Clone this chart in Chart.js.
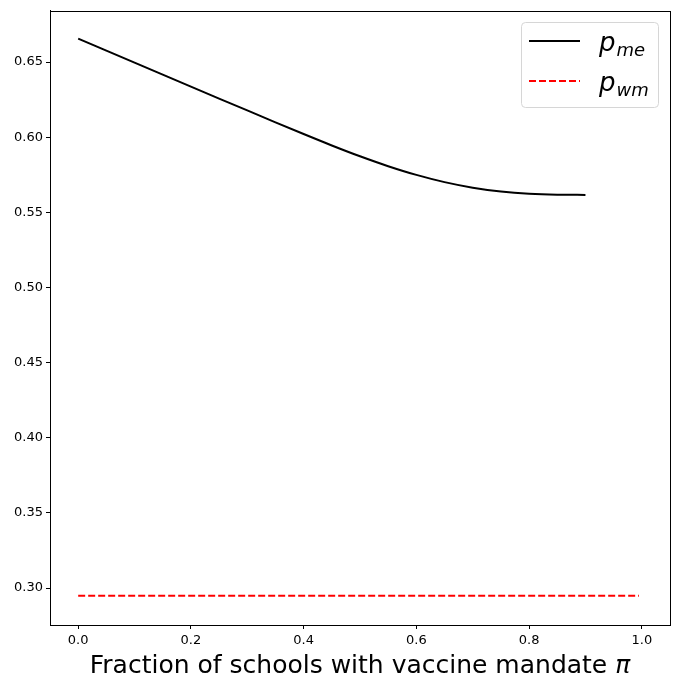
<!DOCTYPE html>
<html>
<head>
<meta charset="utf-8">
<script src="https://cdn.jsdelivr.net/npm/chart.js@4.4.1/dist/chart.umd.min.js"></script>
<style>
  html,body{margin:0;padding:0;background:#fff;}
  #wrap{width:680px;height:689px;position:relative;}
</style>
</head>
<body>
<div id="wrap"><canvas id="cv"></canvas></div>
<script>
// values
const piValues = [0, 0.05, 0.1, 0.15, 0.2, 0.25, 0.3, 0.35, 0.4, 0.45, 0.5, 0.55, 0.6, 0.65, 0.7, 0.75, 0.8, 0.85, 0.9];
const pMe = [0.6656, 0.6576, 0.6496, 0.6416, 0.6336, 0.6257, 0.6178, 0.6099, 0.6021, 0.5945, 0.5873, 0.5807, 0.5749, 0.5701, 0.5664, 0.5638, 0.5623, 0.5617, 0.5616];
const piWm = [0, 0.995];
const pWm = [0.2948, 0.2948];
const xTicks = [0, 0.2, 0.4, 0.6, 0.8, 1.0];
const yTicks = [0.30, 0.35, 0.40, 0.45, 0.50, 0.55, 0.60, 0.65];
const legendNames = [["p", "me"], ["p", "wm"]];
const xTitle = ["Fraction of schools with vaccine mandate ", "\u03c0"];

const fontFam = "'DejaVu Sans', sans-serif";

// frame around the plot, x title with italic pi, legend with subscripts
const framePlugin = {
  id: "frame",
  afterDraw(chart){
    const ctx = chart.ctx, a = chart.chartArea;
    ctx.save();
    ctx.strokeStyle = "#000";
    ctx.lineWidth = 1;
    ctx.strokeRect(Math.round(a.left)+0.5, Math.round(a.top)+0.5, Math.round(a.right-a.left), Math.round(a.bottom-a.top));

    // x title
    ctx.fillStyle = "#000";
    ctx.textBaseline = "alphabetic";
    ctx.font = "25px " + fontFam;
    const w1 = ctx.measureText(xTitle[0]).width;
    ctx.font = "italic 25px " + fontFam;
    const w2 = ctx.measureText(xTitle[1]).width;
    const x0 = (a.left + a.right)/2 - (w1 + w2)/2;
    ctx.font = "25px " + fontFam;
    ctx.fillText(xTitle[0], x0, 673);
    ctx.font = "italic 25px " + fontFam;
    ctx.fillText(xTitle[1], x0 + w1, 673);

    // legend
    const bx = 521, by = 22, bw = 137, bh = 85;
    ctx.beginPath();
    ctx.roundRect(bx+0.5, by+0.5, bw, bh, 4);
    ctx.fillStyle = "rgba(255,255,255,0.8)";
    ctx.fill();
    ctx.strokeStyle = "#d6d6d6";
    ctx.stroke();
    chart.data.datasets.forEach((ds, i) => {
      const y = 41 + i*40;
      ctx.beginPath();
      ctx.setLineDash(ds.borderDash || []);
      ctx.strokeStyle = ds.borderColor;
      ctx.lineWidth = 2;
      ctx.moveTo(529, y); ctx.lineTo(580, y);
      ctx.stroke();
      ctx.setLineDash([]);
      ctx.fillStyle = "#000";
      ctx.font = "italic 26px " + fontFam;
      ctx.fillText(legendNames[i][0], 599, y + 10);
      const w = ctx.measureText(legendNames[i][0]).width;
      ctx.font = "italic 18px " + fontFam;
      ctx.fillText(legendNames[i][1], 599 + w + 1, y + 15);
    });
    ctx.restore();
  }
};

new Chart(document.getElementById("cv"), {
  type: "line",
  data: {
    datasets: [
      {
        label: "p_me",
        data: piValues.map((x, i) => ({x: x, y: pMe[i]})),
        borderColor: "#000",
        borderWidth: 2,
        pointRadius: 0,
        cubicInterpolationMode: "monotone",
        fill: false
      },
      {
        label: "p_wm",
        data: piWm.map((x, i) => ({x: x, y: pWm[i]})),
        borderColor: "#ff0000",
        borderWidth: 2,
        borderDash: [7, 3],
        pointRadius: 0,
        fill: false
      }
    ]
  },
  options: {
    responsive: true,
    maintainAspectRatio: false,
    animation: false,
    layout: {padding: {left: 0, right: 10, top: 10, bottom: 0}},
    plugins: {legend: {display: false}, tooltip: {enabled: false}},
    scales: {
      x: {
        type: "linear",
        min: -0.05, max: 1.05,
        afterBuildTicks: s => { s.ticks = xTicks.map(v => ({value: v})); },
        afterFit: s => { s.height = 64; },
        grid: {drawOnChartArea: false, drawTicks: true, tickLength: 4, color: "#000"},
        border: {display: true, color: "#000"},
        ticks: {
          color: "#000", padding: 4, maxRotation: 0,
          font: {family: fontFam, size: 13},
          callback: v => v.toFixed(1)
        }
      },
      y: {
        type: "linear",
        min: 0.2754, max: 0.6841,
        afterBuildTicks: s => { s.ticks = yTicks.map(v => ({value: v})); },
        afterFit: s => { s.width = 50; },
        grid: {drawOnChartArea: false, drawTicks: true, tickLength: 4, color: "#000"},
        border: {display: true, color: "#000"},
        ticks: {
          color: "#000", padding: 3,
          font: {family: fontFam, size: 13},
          callback: v => v.toFixed(2)
        }
      }
    }
  },
  plugins: [framePlugin]
});
</script>
</body>
</html>
